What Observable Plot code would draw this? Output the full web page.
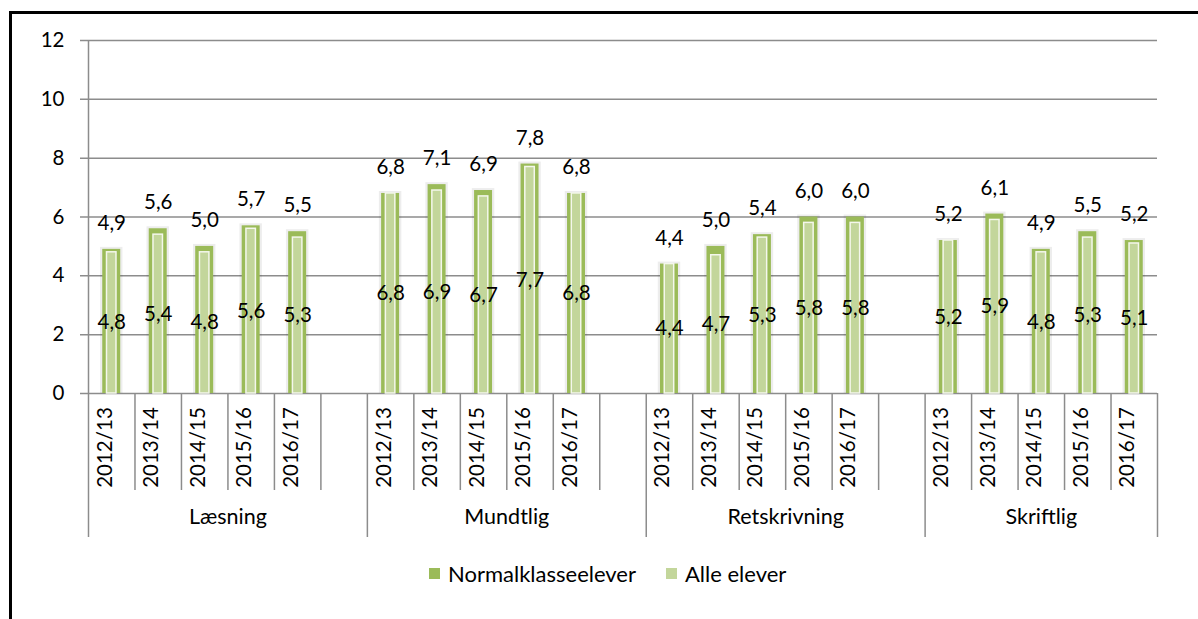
<!DOCTYPE html>
<html>
<head>
<meta charset="utf-8">
<script src="https://cdn.jsdelivr.net/npm/d3@7"></script>
<script src="https://cdn.jsdelivr.net/npm/@observablehq/plot@0.6"></script>
<style>
  body { margin: 0; background: #fff; font-family: Lato, "Open Sans", sans-serif; }
  #wrap { position: relative; width: 1198px; height: 619px; overflow: hidden; }
  #chart { position: absolute; left: 0; top: 0; }
  #frame { position: absolute; left: 9px; top: 11px; width: 1400px; height: 800px;
           border-left: 3px solid #000; border-top: 3px solid #000; pointer-events: none; }
  #legend { position: absolute; left: 429px; top: 560px; display: flex; align-items: center;
            font-size: 22px; color: #000; }
  .item { display: flex; align-items: center; margin-right: 30px; }
  .sw { width: 11px; height: 11px; margin-right: 8px; }
</style>
</head>
<body>
<div id="wrap">
  <div id="chart"></div>
  <div id="frame"></div>
  <div id="legend"></div>
</div>
<script>
const groups = ["Læsning", "Mundtlig", "Retskrivning", "Skriftlig"];
const years = ["2012/13", "2013/14", "2014/15", "2015/16", "2016/17"];
const normalklasseelever = [4.9, 5.6, 5.0, 5.7, 5.5,  6.8, 7.1, 6.9, 7.8, 6.8,  4.4, 5.0, 5.4, 6.0, 6.0,  5.2, 6.1, 4.9, 5.5, 5.2];
const alleElever         = [4.8, 5.4, 4.8, 5.6, 5.3,  6.8, 6.9, 6.7, 7.7, 6.8,  4.4, 4.7, 5.3, 5.8, 5.8,  5.2, 5.9, 4.8, 5.3, 5.1];
const yTicks = [0, 2, 4, 6, 8, 10, 12];
const seriesNames = ["Normalklasseelever", "Alle elever"];
const seriesColors = ["#9BBB59", "#C3D69B"];

const slotsPerGroup = years.length + 1;
const nSlots = groups.length * slotsPerGroup - 1;
const rows = [];
groups.forEach((g, gi) => years.forEach((yr, yi) => {
  const k = gi * years.length + yi;
  rows.push({group: g, year: yr, slot: gi * slotsPerGroup + yi, normal: normalklasseelever[k], alle: alleElever[k]});
}));
const groupEdges = groups.map((g, gi) => gi * slotsPerGroup).concat([nSlots]);
const shortEdges = rows.map(r => r.slot + 1).filter(e => !groupEdges.includes(e));
const groupRows = groups.map((g, gi) => ({name: g, mid: (groupEdges[gi] + groupEdges[gi + 1]) / 2}));
const fmt = v => v.toFixed(1).replace(".", ",");
const gray = "#8c8c8c";

const chart = Plot.plot({
  width: 1198, height: 619,
  marginLeft: 88, marginRight: 41, marginTop: 40, marginBottom: 226,
  x: {type: "linear", domain: [0, nSlots], axis: null},
  y: {domain: [0, 12], axis: null},
  style: {fontFamily: "Lato, 'Open Sans', sans-serif", fontSize: "20px", background: "transparent", color: "#000"},
  marks: [
    Plot.ruleY(yTicks, {y: d => d, stroke: gray, strokeWidth: 1.5, insetLeft: -8}),
    Plot.text(yTicks, {y: d => d, text: d => String(d), frameAnchor: "left", dx: -24, textAnchor: "end", fill: "#000", fontSize: 20.5}),
    Plot.ruleX([0], {x: d => d, stroke: gray, strokeWidth: 1.5}),
    Plot.ruleX(groupEdges, {x: d => d, stroke: gray, strokeWidth: 1.5, insetTop: 353, insetBottom: -144}),
    Plot.ruleX(shortEdges, {x: d => d, stroke: gray, strokeWidth: 1.5, insetTop: 353, insetBottom: -97}),
    // soft shadow
    Plot.rectY(rows, {x1: d => d.slot, x2: d => d.slot + 1, y: "normal", insetLeft: 12, insetRight: 12, insetTop: -2, fill: "#000", fillOpacity: 0.07}),
    Plot.rectY(rows, {x1: d => d.slot, x2: d => d.slot + 1, y: "normal", insetLeft: 14.25, insetRight: 14.25, fill: seriesColors[0]}),
    Plot.rectY(rows, {x1: d => d.slot, x2: d => d.slot + 1, y: "alle", insetLeft: 18.5, insetRight: 18.5, fill: seriesColors[1], stroke: "#F4F7EC", strokeWidth: 1.5}),
    Plot.text(rows, {x: d => d.slot + 0.5, y: "normal", text: d => fmt(d.normal), dy: -26, fill: "#000", fontSize: 20.5}),
    Plot.text(rows, {x: d => d.slot + 0.5, y: d => d.alle / 2, text: d => fmt(d.alle), fill: "#000", fontSize: 20.5}),
    Plot.text(rows, {x: d => d.slot + 0.5, text: "year", frameAnchor: "bottom", dy: 54, rotate: -90, fill: "#000", fontSize: 20.5}),
    Plot.text(groupRows, {x: "mid", text: "name", frameAnchor: "bottom", dy: 130, fill: "#000", fontSize: 21.5})
  ]
});
document.getElementById("chart").appendChild(chart);

const legend = document.getElementById("legend");
seriesNames.forEach((n, i) => {
  const it = document.createElement("div");
  it.className = "item";
  const sw = document.createElement("span");
  sw.className = "sw";
  sw.style.background = seriesColors[i];
  const t = document.createElement("span");
  t.textContent = n;
  it.appendChild(sw); it.appendChild(t);
  legend.appendChild(it);
});
</script>
</body>
</html>
